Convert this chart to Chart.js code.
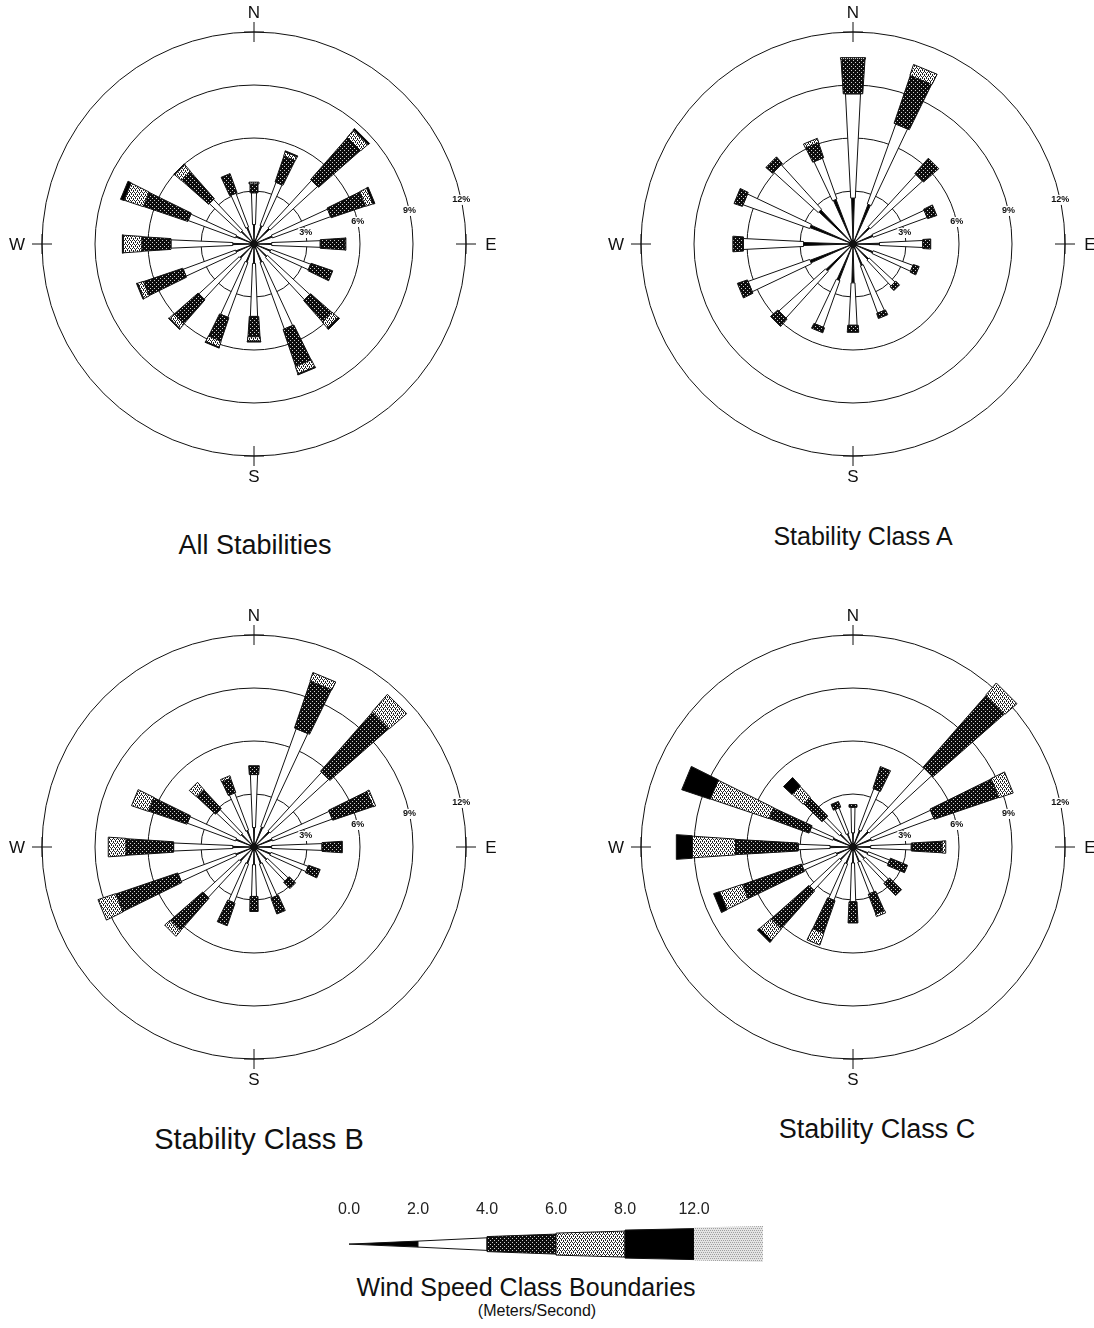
<!DOCTYPE html>
<html>
<head>
<meta charset="utf-8">
<script src="https://cdn.jsdelivr.net/npm/chart.js@4.4.0/dist/chart.umd.min.js"></script>
<style>
  html, body { margin: 0; padding: 0; background: #fff; }
  #page { position: relative; width: 1094px; height: 1328px; overflow: hidden; background: #fff;
          font-family: "Liberation Sans", Arial, sans-serif; color: #111; }
  #page canvas { position: absolute; }
  .lbl { position: absolute; white-space: nowrap; transform: translate(-50%, -50%); }
</style>
</head>
<body>
<div id="page">
  <canvas id="rAll" width="520" height="520" style="left:-6px;top:-16px"></canvas>
  <canvas id="rA" width="520" height="520" style="left:593px;top:-16px"></canvas>
  <canvas id="rB" width="520" height="520" style="left:-6px;top:587px"></canvas>
  <canvas id="rC" width="520" height="520" style="left:593px;top:587px"></canvas>
  <canvas id="cLegend" width="500" height="80" style="left:300px;top:1190px"></canvas>

  <div class="lbl" style="left:255px;top:545px;font-size:27px">All Stabilities</div>
  <div class="lbl" style="left:863px;top:536px;font-size:25px">Stability Class A</div>
  <div class="lbl" style="left:259px;top:1139px;font-size:29px">Stability Class B</div>
  <div class="lbl" style="left:877px;top:1129px;font-size:27px">Stability Class C</div>
  <div class="lbl" style="left:526px;top:1287px;font-size:25px">Wind Speed Class Boundaries</div>
  <div class="lbl" style="left:537px;top:1311px;font-size:16px">(Meters/Second)</div>
</div>
<script>
/* Four wind roses (frequency %, 16 sectors, stacked by speed class) + speed-class legend. */
var DIRS = ["N","NNE","NE","ENE","E","ESE","SE","SSE","S","SSW","SW","WSW","W","WNW","NW","NNW"];
var SPEED_CLASSES = ["0-2","2-4","4-6","6-8","8-12",">12"];
var SPEED_TICKS = ["0.0","2.0","4.0","6.0","8.0","12.0"];
var RING_STEP = 3, RING_MAX = 12;
var COMPASS = ["N","E","S","W"];

// rows follow DIRS; columns follow SPEED_CLASSES (percent of hours)
var ALL_STAB = [
  [1.1, 1.8, 0.5, 0.1, 0, 0],
  [1.1, 2.6, 1.55, 0.25, 0.05, 0],
  [1.2, 3.65, 3.15, 0.55, 0.1, 0],
  [1.1, 3.5, 2.05, 0.45, 0.1, 0],
  [1.0, 2.75, 1.4, 0.05, 0, 0],
  [1.0, 2.4, 1.3, 0, 0, 0],
  [1.0, 3.25, 1.6, 0.45, 0.1, 0],
  [1.1, 4.0, 2.2, 0.45, 0.05, 0],
  [1.1, 3.0, 1.15, 0.25, 0.05, 0],
  [1.1, 3.3, 1.4, 0.35, 0.05, 0],
  [1.1, 3.1, 1.8, 0.35, 0.05, 0],
  [1.1, 3.15, 2.35, 0.35, 0.05, 0],
  [1.2, 3.5, 1.65, 1.05, 0.05, 0],
  [1.1, 2.85, 2.65, 1.15, 0.2, 0],
  [1.0, 2.4, 2.05, 0.5, 0.05, 0],
  [1.0, 2.05, 1.15, 0, 0, 0]
];
var CLASS_A = [
  [2.6, 5.9, 1.95, 0.1, 0, 0],
  [2.4, 4.8, 2.85, 0.65, 0, 0],
  [1.3, 4.0, 1.15, 0, 0, 0],
  [1.2, 3.25, 0.55, 0, 0, 0],
  [1.5, 2.45, 0.45, 0, 0, 0],
  [1.2, 2.4, 0.35, 0, 0, 0],
  [1.2, 2.0, 0.3, 0, 0, 0],
  [1.3, 2.85, 0.3, 0, 0, 0],
  [2.2, 2.4, 0.4, 0, 0, 0],
  [2.2, 2.8, 0.3, 0, 0, 0],
  [2.1, 3.55, 0.55, 0, 0, 0],
  [2.6, 3.7, 0.6, 0, 0, 0],
  [2.8, 3.4, 0.6, 0, 0, 0],
  [2.6, 4.0, 0.5, 0, 0, 0],
  [2.65, 3.4, 0.5, 0, 0, 0],
  [2.7, 2.45, 0.9, 0.25, 0, 0]
];
var CLASS_B = [
  [1.1, 3.0, 0.5, 0, 0, 0],
  [1.2, 5.9, 2.8, 0.5, 0, 0],
  [1.2, 4.5, 4.45, 1.3, 0, 0],
  [1.1, 3.6, 2.4, 0.15, 0, 0],
  [1.0, 2.85, 1.15, 0, 0, 0],
  [1.0, 2.25, 0.7, 0, 0, 0],
  [1.0, 1.6, 0.5, 0, 0, 0],
  [1.0, 2.05, 0.95, 0, 0, 0],
  [1.0, 1.8, 0.85, 0, 0, 0],
  [1.0, 2.35, 1.35, 0, 0, 0],
  [1.1, 2.75, 2.45, 0.4, 0, 0],
  [1.1, 3.45, 3.7, 1.05, 0, 0],
  [1.2, 3.35, 2.7, 1.0, 0, 0],
  [1.1, 2.9, 2.3, 1.0, 0, 0],
  [1.0, 1.85, 1.45, 0.55, 0, 0],
  [1.0, 2.25, 0.85, 0.15, 0, 0]
];
var CLASS_C = [
  [0.8, 1.45, 0.15, 0, 0, 0],
  [1.0, 2.5, 1.3, 0, 0, 0],
  [1.2, 4.8, 5.4, 0.9, 0, 0],
  [1.1, 3.75, 3.85, 0.85, 0, 0],
  [1.0, 2.3, 1.75, 0.2, 0, 0],
  [0.9, 1.3, 1.05, 0, 0, 0],
  [0.9, 1.8, 0.95, 0, 0, 0],
  [0.9, 1.9, 1.2, 0.15, 0, 0],
  [0.9, 2.2, 1.2, 0, 0, 0],
  [1.0, 2.2, 1.95, 0.7, 0, 0],
  [1.0, 2.3, 2.85, 0.85, 0.15, 0],
  [1.0, 2.07, 3.53, 1.35, 0.35, 0],
  [1.3, 1.8, 3.55, 2.45, 0.9, 0],
  [1.2, 1.4, 2.4, 3.5, 1.7, 0],
  [1.0, 1.25, 1.45, 0.85, 0.65, 0],
  [0.8, 1.55, 0.35, 0, 0, 0]
];

/* ---------- styles ---------- */
var INK = "#111";
var FONT = "'Liberation Sans', Arial, sans-serif";
var PETAL_ANGLE = [0.06, 0.10, 0.13, 0.135, 0.14, 0.145]; // petal opening per class (rad)
var PETAL_MIN = [0, 3, 8, 10, 12, 14];                    // min petal width per class (px)
var LEGEND_HALF = [[0, 3], [3, 6.3], [7.5, 10], [11, 13], [14, 15.5], [16.5, 18]];

function tile(bg, fg, dots) {
  var c = document.createElement("canvas");
  c.width = 4; c.height = 4;
  var g = c.getContext("2d");
  g.fillStyle = bg; g.fillRect(0, 0, 4, 4);
  g.fillStyle = fg;
  dots.forEach(function (d) { g.fillRect(d[0], d[1], 1, 1); });
  return g.createPattern(c, "repeat");
}
var FILLS = [
  "#000",
  "#fff",
  tile("#0d0d0d", "#d0d0d0", [[0, 0], [2, 2]]),
  tile("#ffffff", "#222222", [[0, 0], [2, 0], [1, 1], [1, 2], [3, 2], [3, 3]]),
  "#000",
  tile("#e4e4e4", "#a0a0a0", [[0, 0], [2, 0], [1, 2], [3, 2]])
];

function petalWidth(k, dist) {
  return Math.max(PETAL_MIN[k], dist * PETAL_ANGLE[k]);
}

/* ---------- rose plugin ---------- */
var roseBars = {
  id: "roseBars",
  afterDatasetsDraw: function (chart, args, opts) {
    var s = chart.scales.r, ctx = chart.ctx;
    var cx = s.xCenter, cy = s.yCenter;
    ctx.save();
    opts.rows.forEach(function (row, i) {
      var a = s.getIndexAngle(i) - Math.PI / 2;
      var ux = Math.cos(a), uy = Math.sin(a), nx = -uy, ny = ux;
      var cum = 0;
      row.forEach(function (v, k) {
        if (!v) return;
        var d0 = s.getDistanceFromCenterForValue(cum);
        cum += v;
        var d1 = s.getDistanceFromCenterForValue(cum);
        var w0 = petalWidth(k, d0) / 2, w1 = petalWidth(k, d1) / 2;
        ctx.beginPath();
        ctx.moveTo(cx + ux * d0 + nx * w0, cy + uy * d0 + ny * w0);
        ctx.lineTo(cx + ux * d1 + nx * w1, cy + uy * d1 + ny * w1);
        ctx.lineTo(cx + ux * d1 - nx * w1, cy + uy * d1 - ny * w1);
        ctx.lineTo(cx + ux * d0 - nx * w0, cy + uy * d0 - ny * w0);
        ctx.closePath();
        ctx.fillStyle = FILLS[k];
        ctx.fill();
        ctx.lineWidth = 1;
        ctx.strokeStyle = INK;
        ctx.stroke();
      });
    });
    // calm hub
    ctx.beginPath();
    ctx.arc(cx, cy, 4, 0, Math.PI * 2);
    ctx.fillStyle = INK;
    ctx.fill();
    ctx.restore();
  },
  afterDraw: function (chart) {
    var s = chart.scales.r, ctx = chart.ctx;
    var cx = s.xCenter, cy = s.yCenter, R = s.drawingArea;
    ctx.save();
    // ring labels, just above the east axis
    var la = -12 * Math.PI / 180;
    ctx.font = "bold 9px " + FONT;
    ctx.textAlign = "center";
    ctx.textBaseline = "middle";
    s.ticks.forEach(function (t) {
      if (t.value <= 0) return;
      var d = s.getDistanceFromCenterForValue(t.value);
      var x = cx + d * Math.cos(la), y = cy + d * Math.sin(la);
      var txt = t.value + "%";
      var w = ctx.measureText(txt).width;
      ctx.fillStyle = "#fff";
      ctx.fillRect(x - w / 2 - 1, y - 5, w + 2, 10);
      ctx.fillStyle = INK;
      ctx.fillText(txt, x, y);
    });
    // compass crosses and letters
    ctx.font = "17px " + FONT;
    ctx.strokeStyle = INK;
    ctx.lineWidth = 1;
    COMPASS.forEach(function (c, j) {
      var a = s.getIndexAngle(j * 4) - Math.PI / 2;
      var ux = Math.cos(a), uy = Math.sin(a);
      var nx = -uy, ny = ux;
      ctx.beginPath();
      ctx.moveTo(cx + ux * (R - 10), cy + uy * (R - 10));
      ctx.lineTo(cx + ux * (R + 10), cy + uy * (R + 10));
      ctx.moveTo(cx + ux * R + nx * 10, cy + uy * R + ny * 10);
      ctx.lineTo(cx + ux * R - nx * 10, cy + uy * R - ny * 10);
      ctx.stroke();
      var off = (j % 2) ? 25 : 20;
      ctx.fillStyle = INK;
      ctx.fillText(c, cx + ux * (R + off), cy + uy * (R + off) + 1);
    });
    ctx.restore();
  }
};

function mkRose(id, rows) {
  return new Chart(document.getElementById(id), {
    type: "radar",
    data: { labels: DIRS, datasets: [] },
    options: {
      responsive: false, animation: false, events: [],
      layout: { padding: 48 },
      plugins: { legend: { display: false }, tooltip: { enabled: false }, roseBars: { rows: rows } },
      scales: {
        r: {
          min: 0, max: RING_MAX,
          ticks: { display: false, stepSize: RING_STEP },
          grid: { circular: true, color: "#111", lineWidth: 1 },
          angleLines: { display: false },
          pointLabels: { display: false }
        }
      }
    },
    plugins: [roseBars]
  });
}

mkRose("rAll", ALL_STAB);
mkRose("rA", CLASS_A);
mkRose("rB", CLASS_B);
mkRose("rC", CLASS_C);

/* ---------- legend: tapered speed-class bar ---------- */
var legendBar = {
  id: "legendBar",
  afterDatasetsDraw: function (chart) {
    var x = chart.scales.x, y = chart.scales.y, ctx = chart.ctx;
    var yc = y.getPixelForValue(0);
    ctx.save();
    SPEED_CLASSES.forEach(function (name, k) {
      var x0 = x.getPixelForValue(k), x1 = x.getPixelForValue(k + 1);
      var h = LEGEND_HALF[k];
      ctx.beginPath();
      ctx.moveTo(x0, yc - h[0]);
      ctx.lineTo(x1, yc - h[1]);
      ctx.lineTo(x1, yc + h[1]);
      ctx.lineTo(x0, yc + h[0]);
      ctx.closePath();
      ctx.fillStyle = FILLS[k];
      ctx.fill();
      if (k < SPEED_CLASSES.length - 1) {
        ctx.strokeStyle = INK; ctx.lineWidth = 1; ctx.stroke();
      }
    });
    ctx.restore();
  }
};

new Chart(document.getElementById("cLegend"), {
  type: "scatter",
  data: { datasets: [] },
  options: {
    responsive: false, animation: false, events: [],
    layout: { padding: { left: 49, right: 37, top: 7, bottom: 4 } },
    plugins: { legend: { display: false }, tooltip: { enabled: false } },
    scales: {
      x: {
        type: "linear", position: "top", min: 0, max: SPEED_CLASSES.length,
        grid: { display: false, drawTicks: false }, border: { display: false },
        ticks: {
          stepSize: 1, autoSkip: false, maxRotation: 0, padding: 3,
          color: "#222", font: { family: FONT, size: 16 },
          callback: function (v) { return SPEED_TICKS[v] !== undefined ? SPEED_TICKS[v] : ""; }
        }
      },
      y: { display: false, min: -1, max: 1 }
    }
  },
  plugins: [legendBar]
});
</script>
</body>
</html>
